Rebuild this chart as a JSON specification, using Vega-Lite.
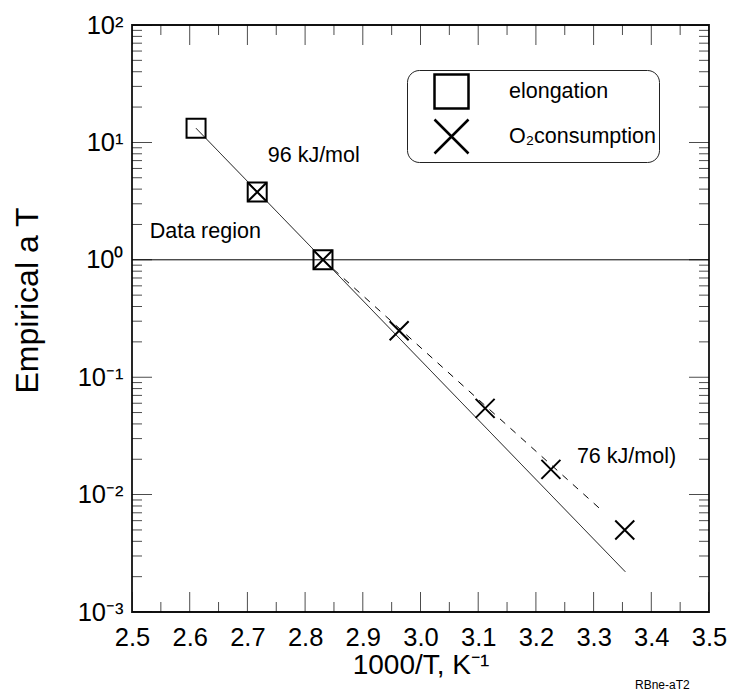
{
  "$schema": "https://vega.github.io/schema/vega-lite/v6.json",
  "width": 577,
  "height": 587,
  "autosize": {"type": "none"},
  "padding": {"left": 132, "top": 25, "right": 21, "bottom": 84},
  "background": "white",
  "config": {
    "font": "Liberation Sans",
    "view": {"stroke": "#111", "strokeWidth": 1.8},
    "axis": {"labelColor": "black", "titleColor": "black", "titleFontWeight": "normal", "grid": false, "ticks": false, "domain": false}
  },
  "title": {"text": "RBne-aT2", "orient": "bottom", "anchor": "end", "fontSize": 12, "fontWeight": "normal", "color": "black", "offset": 0, "dx": -37},
  "datasets": {
    "points": [
      {"x": 2.611, "y": 13.2, "series": "elongation"},
      {"x": 2.717, "y": 3.78, "series": "elongation"},
      {"x": 2.831, "y": 1.0, "series": "elongation"},
      {"x": 2.717, "y": 3.78, "series": "O₂consumption"},
      {"x": 2.831, "y": 1.0, "series": "O₂consumption"},
      {"x": 2.963, "y": 0.249, "series": "O₂consumption"},
      {"x": 3.112, "y": 0.0543, "series": "O₂consumption"},
      {"x": 3.226, "y": 0.0164, "series": "O₂consumption"},
      {"x": 3.354, "y": 0.005, "series": "O₂consumption"}
    ],
    "fits": [
      {"x": 2.611, "y": 13.2, "s": "solid"},
      {"x": 3.355, "y": 0.0022, "s": "solid"},
      {"x": 2.831, "y": 1.0, "s": "dashed"},
      {"x": 3.316, "y": 0.0072, "s": "dashed"}
    ],
    "notes": [
      {"x": 2.627, "y": 1.53, "t": "Data region"},
      {"x": 2.815, "y": 6.8, "t": "96 kJ/mol"},
      {"x": 3.357, "y": 0.0186, "t": "76 kJ/mol)"}
    ],
    "xmajor": [{"v": 2.5}, {"v": 2.6}, {"v": 2.7}, {"v": 2.8}, {"v": 2.9}, {"v": 3.0}, {"v": 3.1}, {"v": 3.2}, {"v": 3.3}, {"v": 3.4}, {"v": 3.5}],
    "xminor": [{"v": 2.55}, {"v": 2.65}, {"v": 2.75}, {"v": 2.85}, {"v": 2.95}, {"v": 3.05}, {"v": 3.15}, {"v": 3.25}, {"v": 3.35}, {"v": 3.45}],
    "ymajor": [{"v": 0.001}, {"v": 0.01}, {"v": 0.1}, {"v": 1}, {"v": 10}, {"v": 100}],
    "yminor": [
      {"v": 0.002}, {"v": 0.003}, {"v": 0.004}, {"v": 0.005}, {"v": 0.006}, {"v": 0.007}, {"v": 0.008}, {"v": 0.009},
      {"v": 0.02}, {"v": 0.03}, {"v": 0.04}, {"v": 0.05}, {"v": 0.06}, {"v": 0.07}, {"v": 0.08}, {"v": 0.09},
      {"v": 0.2}, {"v": 0.3}, {"v": 0.4}, {"v": 0.5}, {"v": 0.6}, {"v": 0.7}, {"v": 0.8}, {"v": 0.9},
      {"v": 2}, {"v": 3}, {"v": 4}, {"v": 5}, {"v": 6}, {"v": 7}, {"v": 8}, {"v": 9},
      {"v": 20}, {"v": 30}, {"v": 40}, {"v": 50}, {"v": 60}, {"v": 70}, {"v": 80}, {"v": 90}
    ]
  },
  "layer": [
    {
      "data": {"name": "fits"},
      "mark": {"type": "line", "color": "black", "strokeWidth": 1, "clip": true},
      "encoding": {
        "x": {"field": "x", "type": "quantitative", "scale": {"domain": [2.5, 3.5], "nice": false, "zero": false},
          "axis": {"values": [2.5, 2.6, 2.7, 2.8, 2.9, 3.0, 3.1, 3.2, 3.3, 3.4, 3.5], "format": ".1f", "labelFontSize": 25.5, "labelPadding": 13, "labelFlush": false, "title": "1000/T, K⁻¹", "titleFontSize": 28, "titlePadding": 1}},
        "y": {"field": "y", "type": "quantitative", "scale": {"type": "log", "domain": [0.001, 100], "nice": false},
          "axis": {"values": [0.001, 0.01, 0.1, 1, 10, 100], "labelExpr": "'10' + ['⁻³','⁻²','⁻¹','⁰','¹','²'][round(log(datum.value)/LN10)+3]", "labelFontSize": 25.5, "labelPadding": 9, "labelFlush": false, "title": "Empirical a T", "titleFontSize": 32, "titlePadding": 33, "titleY": 275}},
        "detail": {"field": "s"},
        "strokeDash": {"field": "s", "type": "nominal", "scale": {"domain": ["solid", "dashed"], "range": [[1, 0], [7, 7]]}, "legend": null}
      }
    },
    {
      "data": {"values": [{"y": 1}]},
      "mark": {"type": "rule", "color": "black", "strokeWidth": 1},
      "encoding": {"y": {"field": "y", "type": "quantitative"}}
    },
    {
      "data": {"name": "points"},
      "mark": {"type": "point", "filled": false, "color": "black", "strokeWidth": 2, "size": 361, "opacity": 1},
      "encoding": {
        "x": {"field": "x", "type": "quantitative"},
        "y": {"field": "y", "type": "quantitative"},
        "shape": {"field": "series", "type": "nominal",
          "scale": {"domain": ["elongation", "O₂consumption"], "range": ["square", "M-1,-1L1,1M-1,1L1,-1"]},
          "legend": {"orient": "none", "legendX": 275, "legendY": 45, "title": null, "strokeColor": "#222", "cornerRadius": 12, "padding": 3, "symbolOffset": 23, "labelOffset": 39, "rowPadding": 0, "labelFontSize": 21.5, "labelColor": "black", "symbolSize": 1156, "symbolStrokeWidth": 2.5, "symbolStrokeColor": "black", "symbolFillColor": "transparent",
            "encode": {"symbols": {"update": {"size": {"signal": "datum.value === 'elongation' ? 484 : 1156"}}}}}
        }
      }
    },
    {
      "data": {"name": "notes"},
      "mark": {"type": "text", "fontSize": 21.5, "color": "black", "align": "center", "baseline": "alphabetic"},
      "encoding": {
        "x": {"field": "x", "type": "quantitative"},
        "y": {"field": "y", "type": "quantitative"},
        "text": {"field": "t"}
      }
    },
    {
      "data": {"name": "xmajor"},
      "mark": {"type": "tick", "orient": "vertical", "size": 40, "thickness": 1, "color": "black", "clip": true},
      "encoding": {"x": {"field": "v", "type": "quantitative"}, "y": {"datum": 0.001, "type": "quantitative"}}
    },
    {
      "data": {"name": "xmajor"},
      "mark": {"type": "tick", "orient": "vertical", "size": 40, "thickness": 1, "color": "black", "clip": true},
      "encoding": {"x": {"field": "v", "type": "quantitative"}, "y": {"datum": 100, "type": "quantitative"}}
    },
    {
      "data": {"name": "xminor"},
      "mark": {"type": "tick", "orient": "vertical", "size": 20, "thickness": 1, "color": "black", "clip": true},
      "encoding": {"x": {"field": "v", "type": "quantitative"}, "y": {"datum": 0.001, "type": "quantitative"}}
    },
    {
      "data": {"name": "xminor"},
      "mark": {"type": "tick", "orient": "vertical", "size": 20, "thickness": 1, "color": "black", "clip": true},
      "encoding": {"x": {"field": "v", "type": "quantitative"}, "y": {"datum": 100, "type": "quantitative"}}
    },
    {
      "data": {"name": "ymajor"},
      "mark": {"type": "tick", "orient": "horizontal", "size": 40, "thickness": 1, "color": "black", "clip": true},
      "encoding": {"y": {"field": "v", "type": "quantitative"}, "x": {"datum": 2.5, "type": "quantitative"}}
    },
    {
      "data": {"name": "ymajor"},
      "mark": {"type": "tick", "orient": "horizontal", "size": 40, "thickness": 1, "color": "black", "clip": true},
      "encoding": {"y": {"field": "v", "type": "quantitative"}, "x": {"datum": 3.5, "type": "quantitative"}}
    },
    {
      "data": {"name": "yminor"},
      "mark": {"type": "tick", "orient": "horizontal", "size": 20, "thickness": 1, "color": "black", "clip": true},
      "encoding": {"y": {"field": "v", "type": "quantitative"}, "x": {"datum": 2.5, "type": "quantitative"}}
    },
    {
      "data": {"name": "yminor"},
      "mark": {"type": "tick", "orient": "horizontal", "size": 20, "thickness": 1, "color": "black", "clip": true},
      "encoding": {"y": {"field": "v", "type": "quantitative"}, "x": {"datum": 3.5, "type": "quantitative"}}
    }
  ]
}
